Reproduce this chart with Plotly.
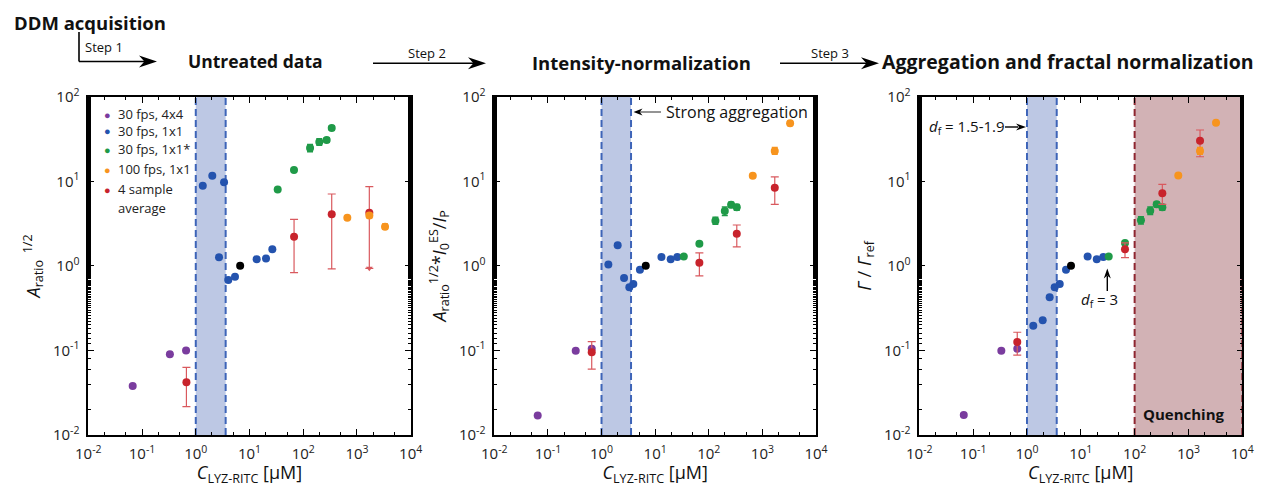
import plotly.graph_objects as go

W, H = 1261, 487

# ---------------- data ----------------
tick_vals_x = [0.01, 0.1, 1, 10, 100, 1000, 10000]
tick_text_x = ["10<sup>-2</sup>", "10<sup>-1</sup>", "10<sup>0</sup>", "10<sup>1</sup>",
               "10<sup>2</sup>", "10<sup>3</sup>", "10<sup>4</sup>"]
tick_vals_y = [0.01, 0.1, 1, 10, 100]
tick_text_y = ["10<sup>-2</sup>", "10<sup>-1</sup>", "10<sup>0</sup>", "10<sup>1</sup>", "10<sup>2</sup>"]

legend_labels = ["30 fps, 4x4", "30 fps, 1x1", "30 fps, 1x1*", "100 fps, 1x1", "4 sample", "average"]

# Panel 1: untreated data
p1_purple_x = [0.067, 0.33, 0.66]
p1_purple_y = [0.038, 0.09, 0.10]
p1_blue_x = [1.35, 2.03, 2.71, 3.36, 4.03, 5.37, 13.6, 20.3, 26.6]
p1_blue_y = [8.87, 11.6, 1.26, 9.72, 0.68, 0.745, 1.20, 1.22, 1.57]
p1_black_x = [6.7]
p1_black_y = [1.0]
p1_green_x = [33.5, 67.3, 134, 199, 273, 339]
p1_green_y = [8.0, 13.6, 24.7, 29.1, 30.8, 42.6]
p1_green_hi = [8.3, 14.1, 27.3, 31.8, 32.6, 44.8]
p1_green_lo = [7.7, 13.1, 22.3, 26.6, 29.0, 40.4]
p1_orange_x = [661, 1700, 3330]
p1_orange_y = [3.71, 3.95, 2.90]
p1_orange_hi = [3.85, 4.2, 3.12]
p1_orange_lo = [3.57, 3.7, 2.70]
p1_red_x = [0.67, 67.5, 339, 1698]
p1_red_y = [0.042, 2.21, 4.07, 4.25]
p1_red_hi = [0.063, 3.55, 7.07, 8.63]
p1_red_lo = [0.0216, 0.83, 0.92, 0.935]
p1_band = [1.0, 3.6]

# Panel 2: intensity-normalization
p2_purple_x = [0.0645, 0.33, 0.656]
p2_purple_y = [0.017, 0.099, 0.105]
p2_blue_x = [1.34, 2.0, 2.63, 3.3, 3.92, 5.2, 13.1, 19.5, 25.9]
p2_blue_y = [1.04, 1.75, 0.72, 0.557, 0.61, 0.90, 1.27, 1.20, 1.27]
p2_black_x = [6.68]
p2_black_y = [1.0]
p2_green_x = [34.2, 66.8, 133, 199, 261, 333]
p2_green_y = [1.29, 1.83, 3.42, 4.45, 5.28, 4.92]
p2_green_hi = [1.33, 1.90, 3.75, 4.95, 5.65, 5.30]
p2_green_lo = [1.25, 1.76, 3.10, 3.95, 4.90, 4.55]
p2_orange_x = [662, 1700, 3290]
p2_orange_y = [11.6, 22.8, 48.4]
p2_orange_hi = [12.1, 25.0, 51.0]
p2_orange_lo = [11.1, 20.8, 45.8]
p2_red_x = [0.656, 66.8, 333, 1702]
p2_red_y = [0.095, 1.09, 2.40, 8.4]
p2_red_hi = [0.127, 1.42, 3.04, 11.3]
p2_red_lo = [0.060, 0.76, 1.68, 5.34]
p2_band = [1.0, 3.55]

# Panel 3: aggregation and fractal normalization
p3_purple_x = [0.067, 0.334, 0.66]
p3_purple_y = [0.0172, 0.099, 0.105]
p3_blue_x = [1.31, 1.96, 2.64, 3.27, 4.06, 5.31, 13.4, 19.8, 26.2]
p3_blue_y = [0.196, 0.227, 0.425, 0.557, 0.61, 0.90, 1.29, 1.20, 1.27]
p3_black_x = [6.58]
p3_black_y = [1.0]
p3_green_x = [33, 66.2, 131, 195, 257, 327]
p3_green_y = [1.29, 1.86, 3.45, 4.49, 5.34, 4.92]
p3_green_hi = [1.33, 1.95, 3.80, 4.95, 5.70, 5.30]
p3_green_lo = [1.25, 1.77, 3.12, 4.05, 4.95, 4.55]
p3_orange_x = [647, 1640, 3250]
p3_orange_y = [11.7, 22.8, 49.2]
p3_orange_hi = [12.2, 25.0, 52.0]
p3_orange_lo = [11.2, 20.8, 46.5]
p3_red_x = [0.66, 66.2, 327, 1640]
p3_red_y = [0.126, 1.57, 7.2, 30.2]
p3_red_hi = [0.164, 1.87, 9.2, 40.4]
p3_red_lo = [0.088, 1.25, 5.34, 19.5]
p3_band = [1.0, 3.57]
p3_quench = [100, 10000]

# ---------------- styles ----------------
C_PURPLE = "#7A3C9E"
C_BLUE = "#2453AE"
C_GREEN = "#1F9A48"
C_ORANGE = "#F7941E"
C_RED = "#C8232C"
C_RED_ERR = "#D9595E"
C_BLACK = "#000000"
BAND_FILL = "#BDC8E4"
BAND_LINE = "#3D64B8"
Q_FILL = "#D2B2B5"
Q_LINE = "#8E2630"
FONT = "Open Sans"
MS = 8


def ppx(x):
    return x / W


def ppy(y):
    return 1 - y / H


fig = go.Figure()


def err(y, hi, lo, color, width=3, thick=1.2):
    return dict(type="data", symmetric=False,
                array=[h - v for h, v in zip(hi, y)],
                arrayminus=[v - l for v, l in zip(y, lo)],
                color=color, width=width, thickness=thick)


def add_panel(i, px_, py_, bx, by, kx, ky, gx, gy, ghi, glo, ox, oy, ohi, olo, rx, ry, rhi, rlo):
    xa = "x" if i == 1 else f"x{i}"
    ya = "y" if i == 1 else f"y{i}"
    mk = lambda c: dict(color=c, size=MS, line=dict(width=0))
    fig.add_trace(go.Scatter(x=px_, y=py_, mode="markers", marker=mk(C_PURPLE), xaxis=xa, yaxis=ya, showlegend=False))
    fig.add_trace(go.Scatter(x=bx, y=by, mode="markers", marker=mk(C_BLUE), xaxis=xa, yaxis=ya, showlegend=False))
    fig.add_trace(go.Scatter(x=gx, y=gy, mode="markers", marker=mk(C_GREEN), xaxis=xa, yaxis=ya, showlegend=False,
                             error_y=err(gy, ghi, glo, C_GREEN, 3, 1.5)))
    fig.add_trace(go.Scatter(x=rx, y=ry, mode="markers", marker=mk(C_RED), xaxis=xa, yaxis=ya, showlegend=False,
                             error_y=err(ry, rhi, rlo, C_RED_ERR, 4, 1.2)))
    fig.add_trace(go.Scatter(x=ox, y=oy, mode="markers", marker=mk(C_ORANGE), xaxis=xa, yaxis=ya, showlegend=False,
                             error_y=err(oy, ohi, olo, C_ORANGE, 3, 1.5)))
    fig.add_trace(go.Scatter(x=kx, y=ky, mode="markers", marker=mk(C_BLACK), xaxis=xa, yaxis=ya, showlegend=False))


add_panel(1, p1_purple_x, p1_purple_y, p1_blue_x, p1_blue_y, p1_black_x, p1_black_y,
          p1_green_x, p1_green_y, p1_green_hi, p1_green_lo, p1_orange_x, p1_orange_y, p1_orange_hi, p1_orange_lo,
          p1_red_x, p1_red_y, p1_red_hi, p1_red_lo)
# downward arrow tip at lower bound of last red point (upper-limit style)
fig.add_trace(go.Scatter(x=[p1_red_x[-1]], y=[p1_red_lo[-1]], mode="markers",
                         marker=dict(symbol="triangle-down", size=6, color=C_RED_ERR),
                         xaxis="x", yaxis="y", showlegend=False))
add_panel(2, p2_purple_x, p2_purple_y, p2_blue_x, p2_blue_y, p2_black_x, p2_black_y,
          p2_green_x, p2_green_y, p2_green_hi, p2_green_lo, p2_orange_x, p2_orange_y, p2_orange_hi, p2_orange_lo,
          p2_red_x, p2_red_y, p2_red_hi, p2_red_lo)
add_panel(3, p3_purple_x, p3_purple_y, p3_blue_x, p3_blue_y, p3_black_x, p3_black_y,
          p3_green_x, p3_green_y, p3_green_hi, p3_green_lo, p3_orange_x, p3_orange_y, p3_orange_hi, p3_orange_lo,
          p3_red_x, p3_red_y, p3_red_hi, p3_red_lo)

# ---------------- axes ----------------
x_domains = [(88.3, 410.7), (494.3, 816.0), (919.3, 1242.3)]
y_dom = [ppy(435), ppy(96.7)]
y_titles = [
    "<i>A</i><sub>ratio</sub><sup>  1/2</sup>",
    "<i>A</i><sub>ratio</sub><sup>1/2</sup>*<i>I</i><sub>0</sub><sup>ES</sup>/<i>I</i><sub>P</sub>",
    "<i>Γ</i> / <i>Γ</i><sub>ref</sub>",
]
x_title = "<i>C</i><sub>LYZ-RITC</sub> [μM]"

common = dict(type="log", showgrid=False, zeroline=False, showline=True, linecolor="black", linewidth=1.6,
              mirror="ticks", ticks="inside", ticklen=6, tickwidth=1.2, tickcolor="black",
              minor=dict(ticks="inside", ticklen=3, tickwidth=1, tickcolor="black", showgrid=False),
              tickfont=dict(family=FONT, size=15, color="#222"), automargin=False)

for i, (d0, d1) in enumerate(x_domains, start=1):
    sfx = "" if i == 1 else str(i)
    fig.update_layout({
        f"xaxis{sfx}": dict(common, domain=[ppx(d0), ppx(d1)], range=[-2, 4], anchor=f"y{sfx}",
                            tickvals=tick_vals_x, ticktext=tick_text_x, ticklabelstandoff=4,
                            title=dict(text=x_title, font=dict(family=FONT, size=18, color="#111"), standoff=4)),
        f"yaxis{sfx}": dict(common, domain=y_dom, range=[-2, 2], anchor=f"x{sfx}",
                            tickvals=tick_vals_y, ticktext=tick_text_y, ticklabelstandoff=4,
                            title=dict(text=y_titles[i - 1], font=dict(family=FONT, size=18, color="#111"), standoff=8)),
    })

# ---------------- shapes ----------------
shapes = []


def band(xref, lo, hi, fill, line):
    shapes.append(dict(type="rect", xref=xref, yref=f"{xref.replace('x', 'y')} domain", x0=lo, x1=hi, y0=0, y1=1,
                       fillcolor=fill, line=dict(width=0), layer="below"))
    for xv in (lo, hi):
        shapes.append(dict(type="line", xref=xref, yref=f"{xref.replace('x', 'y')} domain", x0=xv, x1=xv, y0=0, y1=1,
                           line=dict(color=line, width=2, dash="7px,4px"), layer="below"))


band("x", p1_band[0], p1_band[1], BAND_FILL, BAND_LINE)
band("x2", p2_band[0], p2_band[1], BAND_FILL, BAND_LINE)
band("x3", p3_band[0], p3_band[1], BAND_FILL, BAND_LINE)
band("x3", p3_quench[0], p3_quench[1], Q_FILL, Q_LINE)


def line_px(x0, y0, x1, y1, color="black", width=1.6):
    shapes.append(dict(type="line", xref="paper", yref="paper", x0=ppx(x0), y0=ppy(y0), x1=ppx(x1), y1=ppy(y1),
                       line=dict(color=color, width=width)))


def head_px(tipx, tipy, direction, length=14, half=5, color="black"):
    if direction == "right":
        pts = [(tipx, tipy), (tipx - length, tipy - half), (tipx - length * 0.7, tipy), (tipx - length, tipy + half)]
    elif direction == "left":
        pts = [(tipx, tipy), (tipx + length, tipy - half), (tipx + length * 0.7, tipy), (tipx + length, tipy + half)]
    else:  # up
        pts = [(tipx, tipy), (tipx - half, tipy + length), (tipx, tipy + length * 0.7), (tipx + half, tipy + length)]
    path = "M " + " L ".join(f"{ppx(a)},{ppy(b)}" for a, b in pts) + " Z"
    shapes.append(dict(type="path", xref="paper", yref="paper", path=path, fillcolor=color, line=dict(width=0)))


# step arrows
line_px(79, 32, 79, 61.5)
line_px(79, 61.5, 150, 61.5)
head_px(157, 61.5, "right", 18, 6)
line_px(373, 63.3, 475, 63.3)
head_px(486, 63.3, "right", 18, 6)
line_px(780, 63.3, 868, 63.3)
head_px(879, 63.3, "right", 18, 6)
# strong aggregation arrow
line_px(661, 112, 640, 112, color="#666", width=1.4)
head_px(633.5, 112, "left", 9, 3.5)
# d_f = 1.5-1.9 arrow
line_px(1005, 127, 1018, 127, width=1.4)
head_px(1026, 127, "right", 10, 3.5)
# d_f = 3 arrow
line_px(1107.3, 291, 1107.3, 276, width=1.4)
head_px(1107.3, 268.5, "up", 10, 3.5)

fig.update_layout(shapes=shapes)

# ---------------- annotations ----------------
ann = []


def text_px(x, y, text, size=14, bold=False, xanchor="center", color="#111"):
    t = f"<b>{text}</b>" if bold else text
    ann.append(dict(xref="paper", yref="paper", x=ppx(x), y=ppy(y), text=t, showarrow=False,
                    xanchor=xanchor, yanchor="middle", font=dict(family=FONT, size=size, color=color)))


text_px(12, 22, "DDM acquisition", 18.5, True, "left")
text_px(104, 47, "Step 1", 13, False)
text_px(426.7, 53, "Step 2", 13, False)
text_px(830, 53, "Step 3", 13, False)
text_px(255, 61, "Untreated data", 17.5, True)
text_px(641, 62, "Intensity-normalization", 18.5, True)
text_px(1067.5, 61, "Aggregation and fractal normalization", 19.5, True)

text_px(664, 112, "Strong aggregation", 16, False, "left")
text_px(927, 127, "<i>d</i><sub>f</sub> = 1.5-1.9", 15, False, "left")
text_px(1079, 300, "<i>d</i><sub>f</sub> = 3", 15, False, "left")
text_px(1184, 414, "Quenching", 15, True)

legend_colors = [C_PURPLE, C_BLUE, C_GREEN, C_ORANGE, C_RED, None]
legend_y = [114.3, 130.7, 149.3, 169.3, 189.3, 208.3]
for lab, col, yy in zip(legend_labels, legend_colors, legend_y):
    if col:
        text_px(107.7, yy, "●", 11, False, "center", col)
    text_px(115.5, yy, lab, 13, False, "left", "#222")

fig.update_layout(annotations=ann)

fig.update_layout(width=W, height=H, autosize=False, margin=dict(l=0, r=0, t=0, b=0),
                  paper_bgcolor="white", plot_bgcolor="white", font=dict(family=FONT))

fig.write_html("out.html")
